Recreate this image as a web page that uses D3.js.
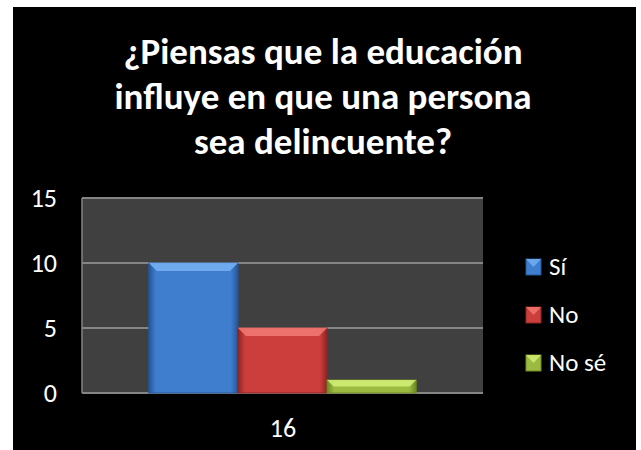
<html>
<script src='https://d3js.org/d3.v7.min.js'></script>
<style>
body { margin: 0; background: white; }
text { font-family: Carlito, Lato, 'Open Sans', sans-serif; fill: white; }
</style>
<body>
<svg width=641 height=450></svg>
<script>
const titleLines = ["¿Piensas que la educación", "influye en que una persona", "sea delincuente?"];
const category = "16";
const series = ["Sí", "No", "No sé"];
const values = [10, 5, 1];
const yTicks = [0, 5, 10, 15];
const colors = ["#3f7ecf", "#cc3e3b", "#9bbb40"];
const lightColors = ["#78b2f5", "#f27a76", "#d4f078"];
const darkColors = ["#24569a", "#8e2522", "#6c8a22"];

const svg = d3.select("svg");
const defs = svg.append("defs");

svg.append("rect").attr("x", 13).attr("y", 7).attr("width", 623).attr("height", 443).attr("fill", "black");

// title
svg.append("g").selectAll("text")
  .data(titleLines)
  .enter().append("text")
  .attr("x", 323).attr("y", (d, i) => 64 + i * 45)
  .attr("text-anchor", "middle")
  .style("font-size", "37px").style("font-weight", "bold")
  .text(d => d);

const pLeft = 82, pRight = 483, pTop = 198, pBottom = 393;

const y = d3.scaleLinear().domain([0, 15]).range([pBottom, pTop]);
const x0 = d3.scaleBand().domain([category]).range([pLeft, pRight]).paddingOuter(0.25).paddingInner(0);
const x1 = d3.scaleBand().domain(series).range([0, x0.bandwidth()]);

svg.append("rect").attr("x", pLeft).attr("y", pTop).attr("width", pRight - pLeft).attr("height", pBottom - pTop).attr("fill", "#404040");

svg.append("g").selectAll("line")
  .data(yTicks)
  .enter().append("line")
  .attr("x1", pLeft).attr("x2", pRight)
  .attr("y1", d => y(d)).attr("y2", d => y(d))
  .attr("stroke", "#858585").attr("stroke-width", 2);

svg.append("line").attr("x1", pLeft).attr("x2", pLeft).attr("y1", pTop).attr("y2", pBottom)
  .attr("stroke", "#858585").attr("stroke-width", 1.5);

// y labels
svg.append("g").selectAll("text")
  .data(yTicks)
  .enter().append("text")
  .attr("x", 57).attr("y", d => y(d) + 9)
  .attr("text-anchor", "end")
  .style("font-size", "26px")
  .text(d => d);

// x label
svg.append("text")
  .attr("x", x0(category) + x0.bandwidth() / 2 + 0.5).attr("y", 437)
  .attr("text-anchor", "middle").style("font-size", "26px")
  .text(category);

series.forEach((s, i) => {
  const g = defs.append("linearGradient").attr("id", "g" + i).attr("x1", 0).attr("x2", 1).attr("y1", 0).attr("y2", 0);
  g.append("stop").attr("offset", "0%").attr("stop-color", darkColors[i]);
  g.append("stop").attr("offset", "8%").attr("stop-color", colors[i]);
  g.append("stop").attr("offset", "92%").attr("stop-color", colors[i]);
  g.append("stop").attr("offset", "100%").attr("stop-color", darkColors[i]);
});

const bars = svg.append("g").selectAll("g")
  .data(series)
  .enter().append("g");

bars.append("rect")
  .attr("x", d => x0(category) + x1(d))
  .attr("y", (d, i) => y(values[i]))
  .attr("width", x1.bandwidth())
  .attr("height", (d, i) => pBottom - y(values[i]))
  .attr("fill", (d, i) => "url(#g" + i + ")")
  .attr("stroke", (d, i) => darkColors[i]).attr("stroke-width", 1);

// top bevel
bars.append("polygon")
  .attr("points", (d, i) => {
    const bx = x0(category) + x1(d), bw = x1.bandwidth(), by = y(values[i]);
    const b = Math.min(8, (pBottom - by) / 2);
    return [[bx, by], [bx + bw, by], [bx + bw - b, by + b], [bx + b, by + b]].join(" ");
  })
  .attr("fill", (d, i) => lightColors[i]).attr("opacity", 0.85);

// legend
const legend = svg.append("g").selectAll("g")
  .data(series)
  .enter().append("g")
  .attr("transform", (d, i) => "translate(526," + (259 + i * 48) + ")");

legend.append("rect").attr("width", 15).attr("height", 16)
  .attr("fill", (d, i) => colors[i]).attr("stroke", (d, i) => darkColors[i]);
legend.append("polygon").attr("points", "0,0 15,0 7.5,8")
  .attr("fill", (d, i) => lightColors[i]).attr("opacity", 0.8);
legend.append("text").attr("x", 23).attr("y", 16)
  .style("font-size", "25px").text(d => d);
</script>
</body>
</html>
